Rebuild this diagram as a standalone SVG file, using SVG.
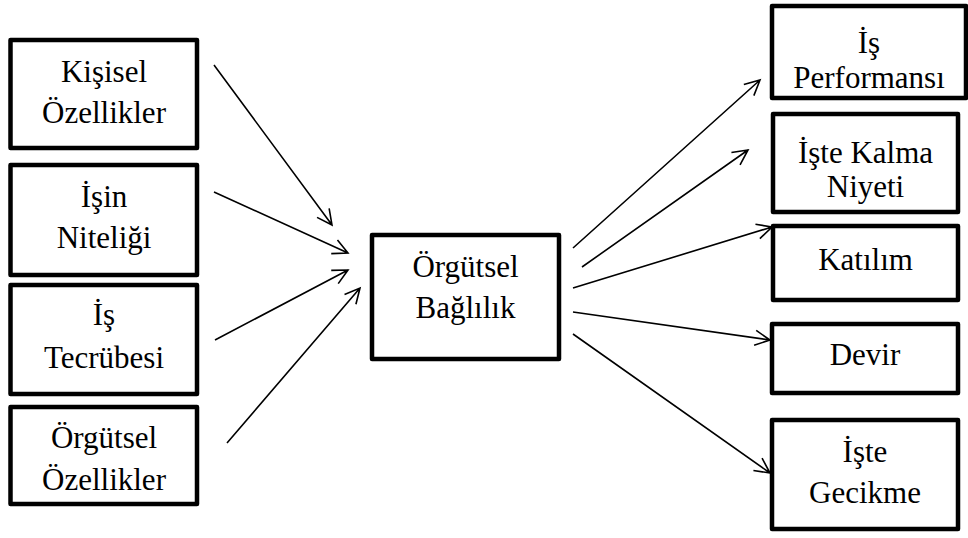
<svg xmlns="http://www.w3.org/2000/svg" width="968" height="538" viewBox="0 0 968 538">
<rect width="968" height="538" fill="#fff"/>
<g id="nodes" font-family="Times New Roman" font-size="31" text-anchor="middle" fill="#000">
<g id="n1"><rect x="10.5" y="40" width="186.5" height="108" fill="#fff" stroke="#000" stroke-width="4.5" stroke-linejoin="round"/><text x="104" y="82" font-family="Times New Roman">Kişisel</text><text x="104" y="123" font-family="Times New Roman">Özellikler</text></g>
<g id="n2"><rect x="10.5" y="165" width="186.5" height="110" fill="#fff" stroke="#000" stroke-width="4.5" stroke-linejoin="round"/><text x="104" y="207" font-family="Times New Roman">İşin</text><text x="104" y="248" font-family="Times New Roman">Niteliği</text></g>
<g id="n3"><rect x="10.5" y="285" width="186.5" height="109" fill="#fff" stroke="#000" stroke-width="4.5" stroke-linejoin="round"/><text x="104" y="325" font-family="Times New Roman">İş</text><text x="104" y="368" font-family="Times New Roman">Tecrübesi</text></g>
<g id="n4"><rect x="10.5" y="407" width="186.5" height="97" fill="#fff" stroke="#000" stroke-width="4.5" stroke-linejoin="round"/><text x="104" y="448" font-family="Times New Roman">Örgütsel</text><text x="104" y="490" font-family="Times New Roman">Özellikler</text></g>
<g id="center"><rect x="372" y="235" width="187" height="124" fill="#fff" stroke="#000" stroke-width="4.5" stroke-linejoin="round"/><text x="465.5" y="277" font-family="Times New Roman">Örgütsel</text><text x="465.5" y="318" font-family="Times New Roman">Bağlılık</text></g>
<g id="r1"><rect x="772" y="6" width="194" height="92" fill="#fff" stroke="#000" stroke-width="4.5" stroke-linejoin="round"/><text x="869" y="53" font-family="Times New Roman">İş</text><text x="869" y="88" font-family="Times New Roman">Performansı</text></g>
<g id="r2"><rect x="773" y="114" width="185" height="98" fill="#fff" stroke="#000" stroke-width="4.5" stroke-linejoin="round"/><text x="865.5" y="163" font-family="Times New Roman">İşte Kalma</text><text x="865.5" y="197" font-family="Times New Roman">Niyeti</text></g>
<g id="r3"><rect x="773" y="226" width="185" height="74" fill="#fff" stroke="#000" stroke-width="4.5" stroke-linejoin="round"/><text x="865.5" y="270" font-family="Times New Roman">Katılım</text></g>
<g id="r4"><rect x="772" y="324" width="186" height="69" fill="#fff" stroke="#000" stroke-width="4.5" stroke-linejoin="round"/><text x="865" y="365" font-family="Times New Roman">Devir</text></g>
<g id="r5"><rect x="772" y="420" width="186" height="109" fill="#fff" stroke="#000" stroke-width="4.5" stroke-linejoin="round"/><text x="865" y="462" font-family="Times New Roman">İşte</text><text x="865" y="503" font-family="Times New Roman">Gecikme</text></g>
</g>
<g id="connectors" fill="none" stroke="#000" stroke-width="1.6">
<path d="M214,65 L332,225 M317.06,217.38 L332,225 L329.14,208.48"/>
<path d="M214,192 L348,253 M331.24,253.61 L348,253 L337.46,239.95"/>
<path d="M215,340 L348,270 M338.22,283.63 L348,270 L331.24,270.35"/>
<path d="M227,443 L360,288 M355.92,304.27 L360,288 L344.54,294.51"/>
<path d="M573,248 L760,80 M753.85,95.6 L760,80 L743.83,84.44"/>
<path d="M582,267 L748,150 M740.06,164.77 L748,150 L731.42,152.51"/>
<path d="M573,288 L772,227 M759.86,238.57 L772,227 L755.46,224.23"/>
<path d="M573,312 L770,340 M754.09,345.32 L770,340 L756.21,330.46"/>
<path d="M573,334 L770,473 M753.42,470.48 L770,473 L762.06,458.22"/>
</g>
</svg>
